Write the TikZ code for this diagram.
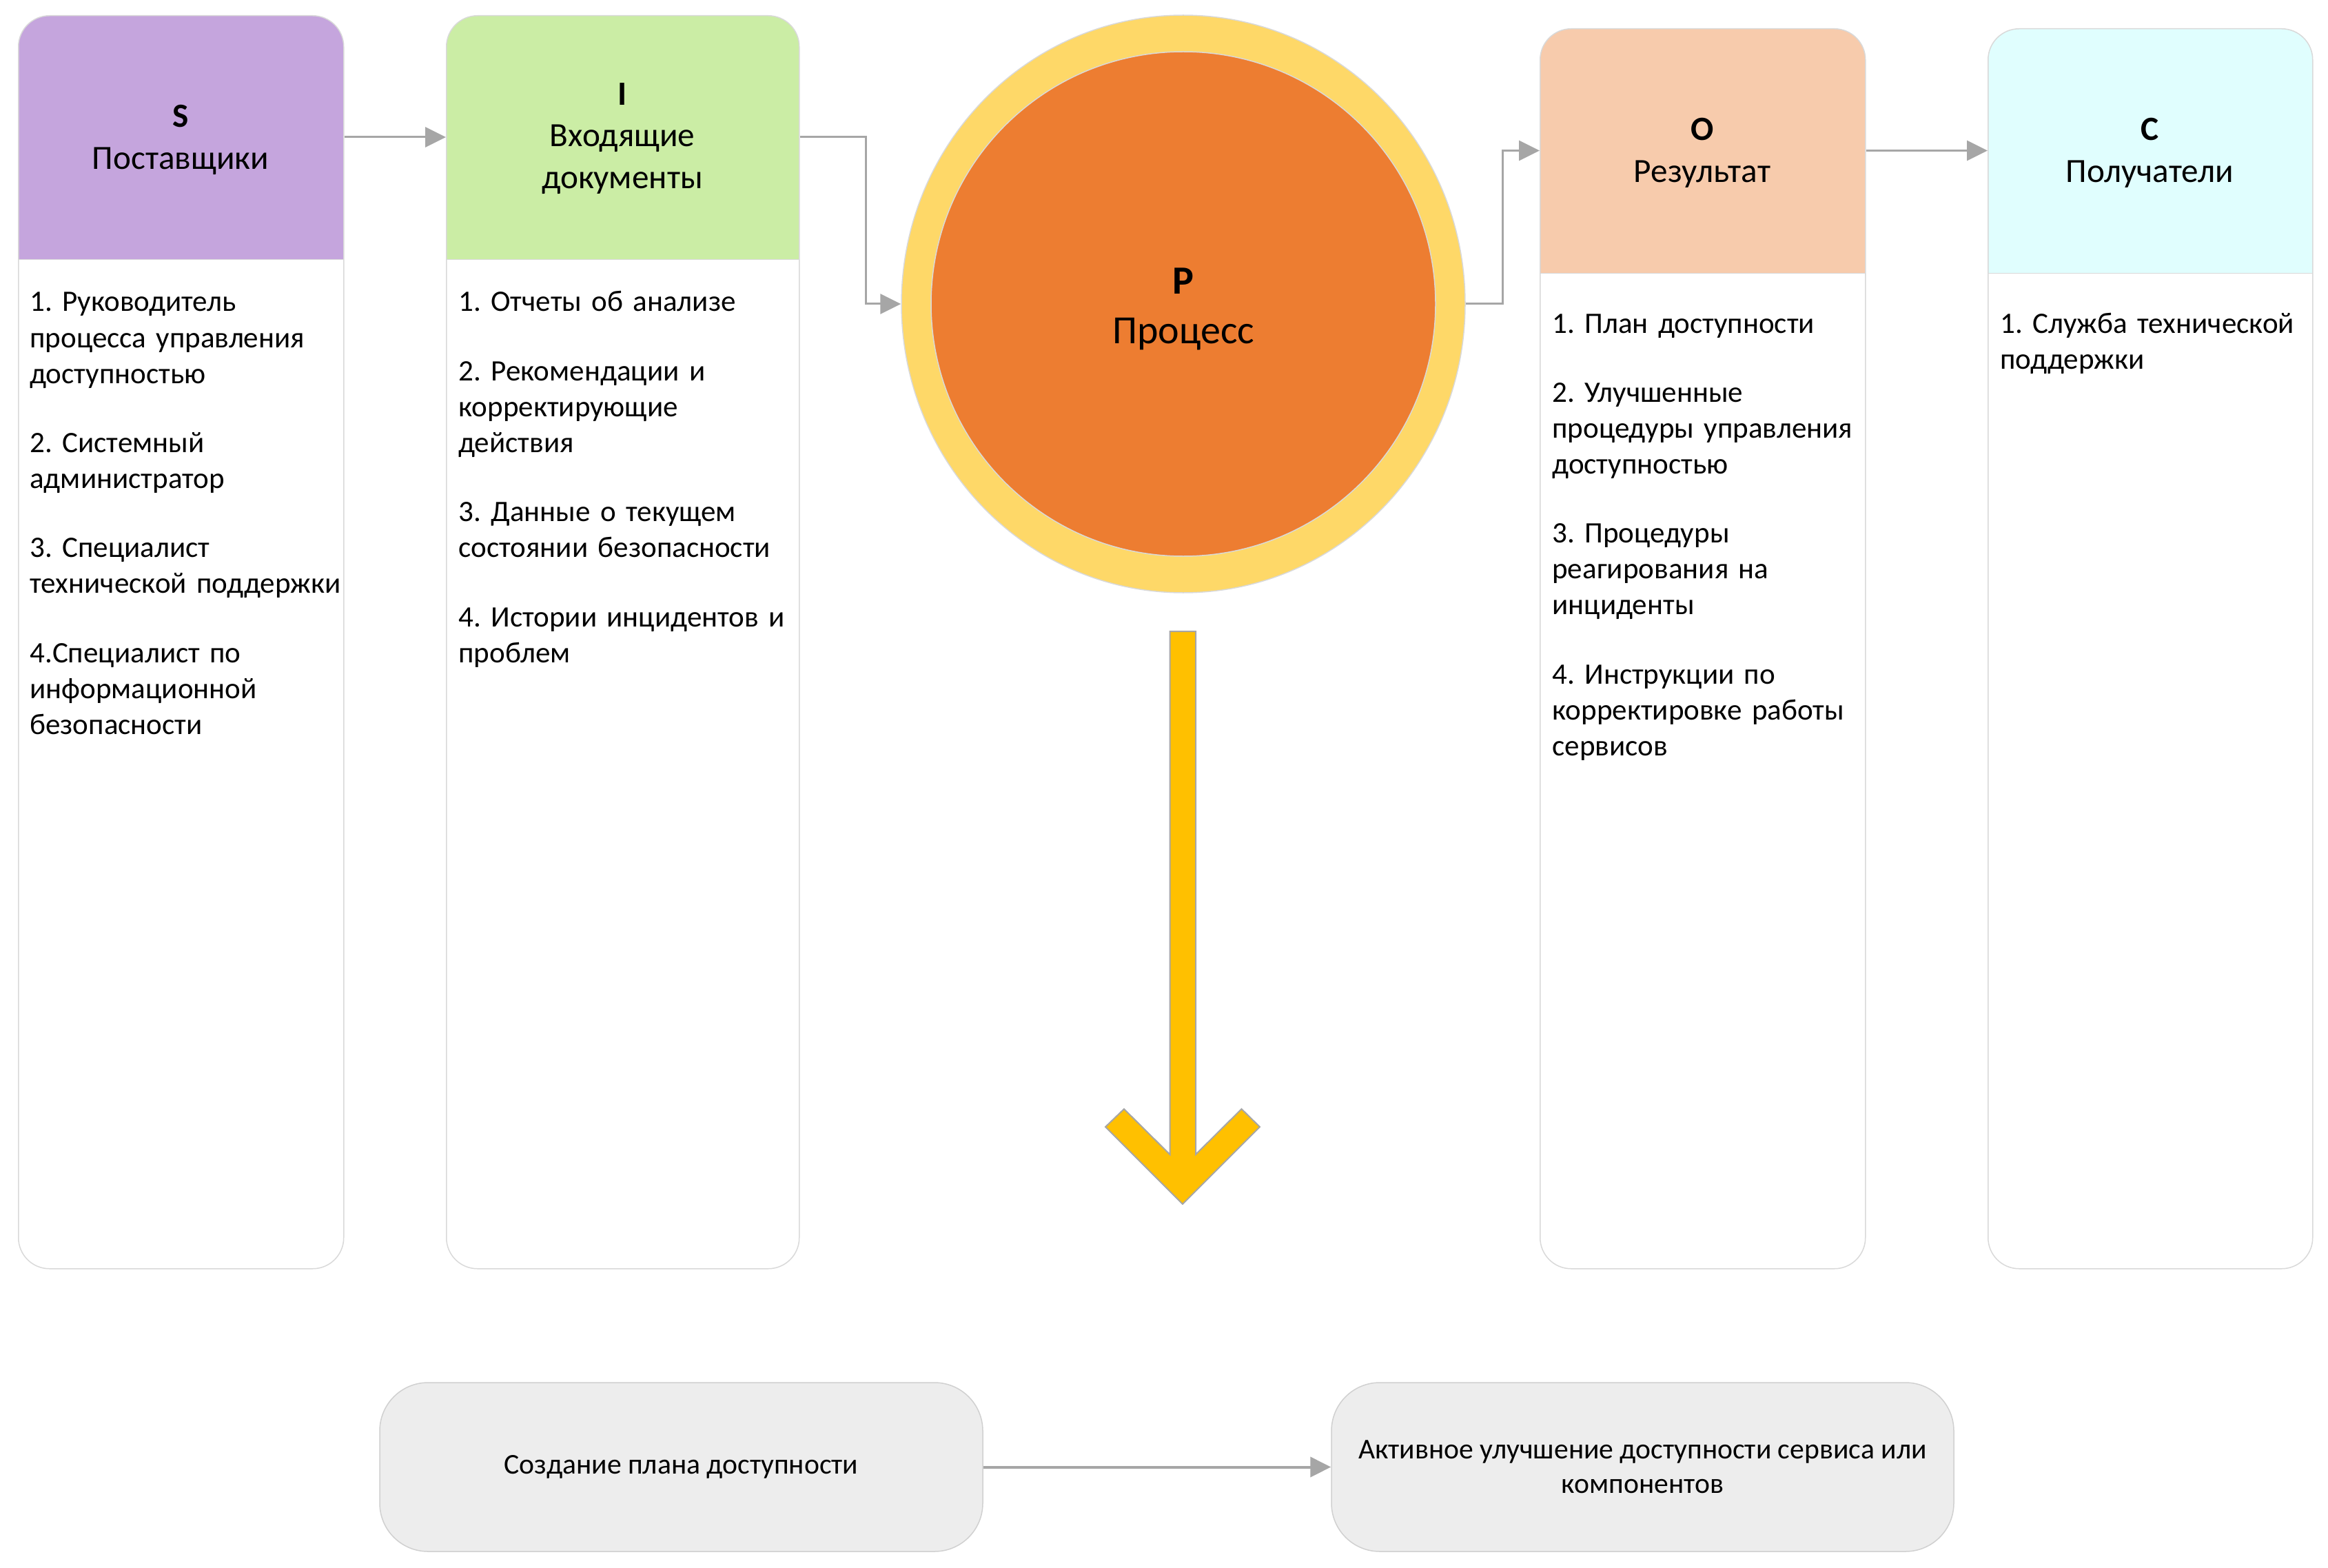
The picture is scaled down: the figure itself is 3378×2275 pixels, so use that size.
\documentclass[tikz,border=0pt]{standalone}
\usepackage{fontspec}
\setmainfont{Carlito}
\frenchspacing
\usetikzlibrary{shapes.geometric,arrows.meta,calc}
\definecolor{sCol}{HTML}{C5A5DD}
\definecolor{iCol}{HTML}{CBEDA5}
\definecolor{oCol}{HTML}{F7CBAC}
\definecolor{cCol}{HTML}{E0FEFE}
\definecolor{ringCol}{HTML}{FED868}
\definecolor{coreCol}{HTML}{ED7D31}
\definecolor{arrCol}{HTML}{FFC000}
\definecolor{lineCol}{HTML}{A6A6A6}
\definecolor{edgeCol}{HTML}{D9D9D9}
\definecolor{pillCol}{HTML}{EDEDED}
\definecolor{pillEdge}{HTML}{D0D0D0}
\begin{document}
\begin{tikzpicture}[x=0.2mm,y=-0.2mm,
  column/.style n args={2}{draw=edgeCol, line width=0.3mm, fill=white, rounded corners=9mm,
     inner sep=0pt, anchor=north west,
     path picture={\fill[#1, sharp corners] (path picture bounding box.north west) rectangle ($(path picture bounding box.north east)+(0,#2)$);
                   \draw[edgeCol, line width=0.3mm, sharp corners] ($(path picture bounding box.north west)+(0,#2)$) -- ($(path picture bounding box.north east)+(0,#2)$);}},
  headtxt/.style={align=center, inner sep=0pt, font=\fontsize{28pt}{34.5pt}\selectfont},
  bodytxt/.style={align=left, inner sep=0pt, anchor=base west, text width=640*0.2mm, font=\fontsize{24.5pt}{29.6pt}\selectfont},
  conn/.style={draw=lineCol, line width=0.6mm, -{Triangle[length=6mm,width=5.8mm]}},
  pill/.style={draw=pillEdge, line width=0.3mm, fill=pillCol, rounded corners=14mm, align=center, inner sep=0pt,
     font=\fontsize{23.7pt}{28.5pt}\selectfont}
]
\useasboundingbox (0,0) rectangle (3378,2275);

% columns
\node[column={sCol}{354}, minimum width=472*0.2mm, minimum height=1818*0.2mm] (S) at (26,22) {};
\node[column={iCol}{354}, minimum width=512*0.2mm, minimum height=1818*0.2mm] (I) at (647,22) {};
\node[column={oCol}{355}, minimum width=472*0.2mm, minimum height=1799*0.2mm] (O) at (2234,41) {};
\node[column={cCol}{355}, minimum width=471*0.2mm, minimum height=1799*0.2mm] (C) at (2884,41) {};

% header centres (connector levels)
\coordinate (Sc) at (262,199);
\coordinate (Ic) at (903,199);
\coordinate (Oc) at (2470,218.5);
\coordinate (Cc) at (3119.5,218.5);

% headers
\node[headtxt] (Shead) at (262,203) {\textbf{S}\\Поставщики};
\node[headtxt] (Ihead) at (903,201) {\textbf{I}\\Входящие\\документы};
\node[headtxt] (Ohead) at (2470,222) {\textbf{O}\\Результат};
\node[headtxt] (Chead) at (3119.5,222) {\textbf{C}\\Получатели};

% bodies
\node[bodytxt] (Sbody) at (43,452) {1. Руководитель\\процесса управления\\доступностью\\[27.5pt]2. Системный\\администратор\\[27.5pt]3. Специалист\\технической поддержки\\[27.5pt]4.Специалист по\\информационной\\безопасности};
\node[bodytxt] (Ibody) at (665,452) {1. Отчеты об анализе\\[27.5pt]2. Рекомендации и\\корректирующие\\действия\\[27.5pt]3. Данные о текущем\\состоянии безопасности\\[27.5pt]4. Истории инцидентов и\\проблем};
\node[bodytxt] (Obody) at (2252,483) {1. План доступности\\[27.5pt]2. Улучшенные\\процедуры управления\\доступностью\\[27.5pt]3. Процедуры\\реагирования на\\инциденты\\[27.5pt]4. Инструкции по\\корректировке работы\\сервисов};
\node[bodytxt] (Cbody) at (2902,483) {1. Служба технической\\поддержки};

% process circle
\node[ellipse, draw=edgeCol, line width=0.3mm, fill=ringCol, minimum width=818*0.2mm, minimum height=838*0.2mm, inner sep=0pt] (P) at (1717,441) {};
\node[circle, draw=edgeCol, line width=0.3mm, fill=coreCol, minimum size=732*0.2mm, inner sep=0pt] (Pcore) at (1717,441) {};
\node[align=center, inner sep=0pt, font=\fontsize{33pt}{41pt}\selectfont] (Ptxt) at (1717,448) {\textbf{P}\\Процесс};

% connectors
\draw[conn] (Sc -| S.east) -- (Ic -| I.west);
\draw[conn] (Ic -| I.east) -- ++(96,0) |- (P.west);
\draw[conn] (P.east) -- ++(54,0) |- (Oc -| O.west);
\draw[conn] (Oc -| O.east) -- (Cc -| C.west);

% big down arrow
\draw[draw=lineCol, line width=0.4mm, fill=arrCol, line join=miter]
  (1697.5,916) -- (1735,916) -- (1735,1675) -- (1801.5,1609) -- (1828,1635) -- (1716,1747)
  -- (1604,1635) -- (1631,1609) -- (1697.5,1675) -- cycle;

% bottom pills
\node[pill, minimum width=875*0.2mm, minimum height=245*0.2mm] (B1) at (988.5,2128.5) {Создание плана доступности};
\node[pill, minimum width=903*0.2mm, minimum height=245*0.2mm] (B2) at (2383.5,2128.5) {Активное улучшение доступности сервиса или\\компонентов};
\draw[conn, line width=0.8mm] (B1.east) -- (B2.west);
\end{tikzpicture}
\end{document}
